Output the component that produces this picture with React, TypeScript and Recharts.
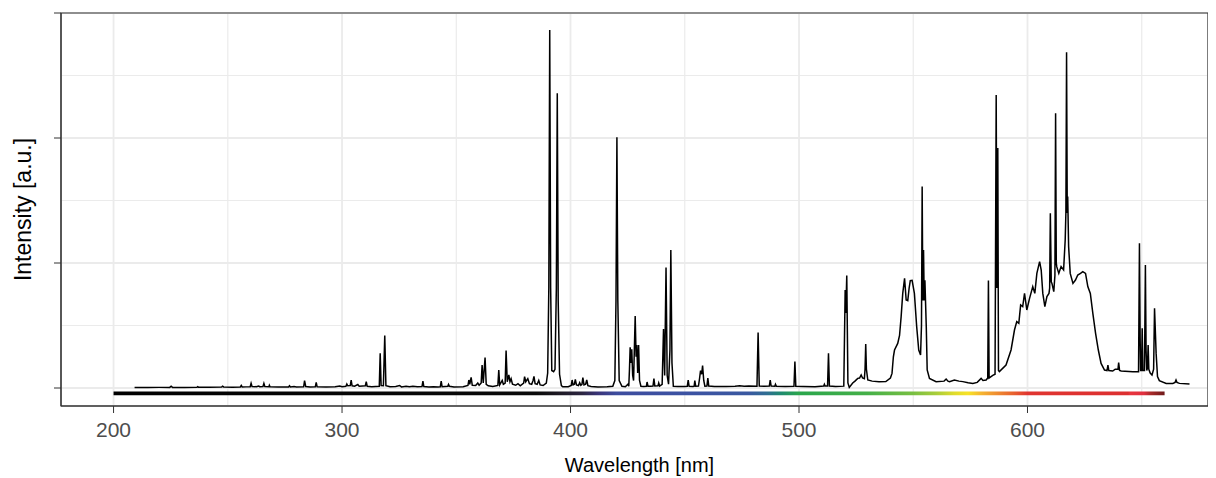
import { LineChart, Line, XAxis, YAxis, CartesianGrid, ReferenceArea } from 'recharts';

// wavelength [nm], intensity [counts]
const uvSpectrum: [number, number][] = [
  [209.2, 4], [215, 4], [220, 5], [224.6, 5], [225.2, 14], [225.8, 5], [231, 5], [236.5, 6], [236.8, 10], [237.2, 6],
  [242, 6], [247.3, 8], [247.7, 14], [248.2, 8], [252, 7], [255.5, 8], [255.9, 20], [256.3, 8], [258, 9], [259.8, 10],
  [260.2, 37], [260.6, 12], [262.5, 10], [263.5, 16], [264, 10], [265.4, 12], [265.8, 37], [266.2, 12], [268, 10],
  [268.2, 22], [268.5, 10], [272, 8], [276.6, 8], [277, 18], [277.4, 8], [279, 12], [280, 9], [283.2, 10], [283.6, 59],
  [284.1, 12], [286, 8], [288.3, 9], [288.7, 45], [289.1, 9], [293, 8], [297, 10], [299, 16], [300, 10], [301.7, 14],
  [302.1, 32], [302.5, 18], [303.6, 20], [304, 64], [304.4, 18], [305.5, 15], [306.9, 28], [307.5, 14], [309, 16],
  [310.2, 18], [310.6, 50], [311, 14], [313, 10], [316.3, 14], [316.7, 277], [317.1, 20], [318.1, 18], [318.7, 419],
  [319.2, 18], [321, 10], [323.5, 12], [325.2, 20], [326, 9], [328, 14], [329.5, 10], [331, 13], [333, 10], [335, 12],
  [335.4, 56], [335.8, 12], [338, 8], [340, 10],
];

const violetSpectrum: [number, number][] = [
  [342, 8], [343, 10], [343.4, 56], [343.8, 10], [346.3, 14], [346.6, 29], [347, 14], [349, 8], [353, 10], [355.1, 20],
  [355.5, 64], [355.9, 30], [356.5, 85], [357, 22], [358.5, 20], [359.4, 40], [360, 22], [360.9, 40], [361.3, 184],
  [361.8, 40], [362.6, 243], [363.1, 30], [364, 18], [366, 12], [368.2, 20], [368.6, 144], [369, 24], [370.1, 60],
  [370.6, 30], [371.4, 40], [371.8, 299], [372.3, 50], [373, 104], [373.5, 50], [374, 74], [374.6, 30], [376, 22],
  [377, 35], [378, 18], [379.5, 40], [379.9, 91], [380.4, 50], [381.3, 75], [382, 35], [383, 30], [383.6, 60], [384, 93],
  [384.5, 35], [385.4, 30], [386.1, 60], [386.7, 25], [388, 20], [389.4, 40], [390, 120], [390.5, 800], [390.9, 2864],
  [391.3, 800], [391.8, 140], [392.6, 131], [393.2, 150], [393.8, 800], [394.2, 2357], [394.6, 700], [395.2, 110],
  [396, 20], [396.6, 10], [399, 10], [400.3, 20], [400.7, 64], [401.1, 25], [401.7, 30], [402.1, 69], [402.6, 25],
  [403.5, 20], [404, 42], [404.5, 22], [405, 30], [405.4, 83], [405.9, 25], [406.6, 30], [407.1, 64], [407.6, 18],
  [409, 12], [412, 8], [416, 10], [418.5, 14], [419.4, 60], [419.9, 700], [420.3, 2005], [420.7, 700], [421.3, 60],
  [422.5, 14],
];

const blueGreenSpectrum: [number, number][] = [
  [424, 10], [425.1, 30], [425.5, 15], [425.8, 150], [426.1, 325], [426.5, 200], [426.8, 309], [427.2, 100], [427.6, 60],
  [428.3, 576], [428.7, 250], [429, 344], [429.4, 120], [429.8, 344], [430.2, 60], [430.8, 14], [432, 12], [433.2, 14],
  [433.5, 48], [433.9, 14], [435, 14], [436.1, 16], [436.5, 75], [436.9, 16], [438.3, 18], [438.6, 40], [439, 16],
  [440.1, 30], [440.7, 472], [441.2, 100], [441.8, 963], [442.3, 100], [442.9, 30], [443.5, 300], [443.9, 1104],
  [444.4, 200], [445, 14], [447, 12], [450, 12], [451.1, 14], [451.5, 64], [451.9, 14], [453.5, 12], [454.1, 14],
  [454.4, 59], [454.8, 14], [456, 15], [456.5, 80], [456.9, 139], [457.4, 110], [457.8, 179], [458.3, 60], [458.8, 15],
  [459.7, 16], [460.1, 80], [460.5, 16], [463, 12], [468, 12], [472, 14], [474, 18], [476, 14], [478, 16], [481.6, 15],
  [482.1, 443], [482.6, 15], [485, 14], [487, 15], [487.4, 64], [487.8, 16], [489.4, 14], [489.7, 30], [490.1, 14],
  [494, 12], [497.8, 14], [498.2, 211], [498.6, 14], [502, 12], [507, 11], [510.8, 16], [511.1, 30], [511.4, 16],
  [512.5, 16], [512.9, 277], [513.3, 16], [516, 12], [519.6, 15], [520.2, 784], [520.5, 600], [520.9, 899], [521.4, 40],
  [522, 5],
];

const yellowSpectrum: [number, number][] = [
  [523.5, 40], [524.5, 55], [525.7, 77], [526.5, 80], [527.2, 104], [527.8, 80], [528.6, 75], [528.9, 150], [529.2, 352],
  [529.5, 150], [530.1, 64], [532, 55], [535, 51], [538, 52], [540, 80], [540.7, 117], [541.3, 250], [541.8, 304],
  [543.2, 357], [544, 420], [544.7, 571], [545.4, 757], [546.2, 877], [546.9, 704], [547.6, 699], [548.2, 800],
  [548.7, 859], [549.5, 861], [550.5, 757], [551.5, 491], [552.4, 304], [553.2, 264], [553.6, 500], [553.9, 1611],
  [554.2, 700], [554.5, 1104], [554.8, 700], [555.1, 861], [555.7, 491], [556.1, 144], [557.1, 77], [560, 51],
  [563.5, 55], [564.4, 72], [565.2, 55], [565.9, 51], [568, 64], [570, 55], [571.7, 51], [574, 42], [576.1, 37], [578, 45],
  [579.7, 77], [580.5, 60], [581.9, 64], [582.6, 80], [582.9, 859], [583.2, 80], [583.6, 85], [584.8, 101], [585.8, 110],
  [586.3, 2344], [586.6, 800], [587, 1920], [587.3, 140], [587.7, 131], [590.6, 184], [592.8, 304], [594.3, 464],
  [595.3, 531], [596.2, 517], [597, 664], [597.9, 651], [598.7, 757], [599.7, 624], [600.9, 717], [602.3, 811],
  [603.2, 757], [604.1, 917], [605.3, 1011], [606, 944], [606.7, 757], [607.6, 651], [608.5, 731], [609.4, 757],
];

const redSpectrum: [number, number][] = [
  [609.7, 800], [610, 1397], [610.4, 850], [610.7, 837], [611.5, 771], [612, 900], [612.3, 2197], [612.6, 1000],
  [612.8, 971], [613.7, 917], [614.7, 971], [615.8, 944], [616.5, 1184], [616.8, 1400], [617.1, 2685], [617.4, 1400],
  [617.6, 1531], [618, 1131], [618.7, 917], [619.9, 837], [621, 864], [622, 904], [623.2, 917], [624.2, 931],
  [625.4, 917], [626.4, 811], [627.5, 757], [628.6, 597], [629.8, 437], [631, 304], [632.2, 197], [633.7, 144],
  [634.8, 140], [635.2, 184], [635.6, 140], [637.3, 136], [638.4, 150], [639.6, 150], [639.9, 203], [640.3, 140],
  [641, 136], [646.1, 131], [648.6, 131], [649, 1157], [649.3, 400], [649.5, 140], [649.9, 140], [650.2, 477],
  [650.5, 140], [651.2, 140], [651.6, 984], [651.9, 300], [652.2, 140], [652.5, 160], [652.8, 344], [653.1, 150],
  [653.7, 120], [654.5, 104], [655.2, 150], [655.6, 637], [656.3, 277], [656.9, 91], [657.7, 59], [660.7, 37],
  [663.6, 37], [664.6, 45], [665, 64], [665.4, 45], [666.5, 37], [670.9, 32],
];

const majorX = [200, 300, 400, 500, 600];
const minorX = [250, 350, 450, 550, 650];
const majorY = [0, 1000, 2000, 3000];
const minorY = [500, 1500, 2500];

// colour bar under the spectrum: [wavelength, colour]
const barColours: [number, string][] = [
  [200, '#000000'], [385, '#0a0a0a'], [395, '#1e1a24'], [405, '#2c2540'], [412, '#3a3478'], [420, '#3d4c9e'],
  [450, '#3c52a2'], [478, '#3a58a0'], [486, '#2f6e92'], [492, '#1f8a70'], [500, '#2aa64c'], [530, '#45b048'],
  [550, '#78bf42'], [560, '#a8cd3a'], [568, '#e0dc2c'], [574, '#f7e226'], [580, '#f5b330'], [587, '#ee8a30'],
  [594, '#e8602e'], [600, '#e03530'], [644, '#dc2f30'], [645, '#e8353e'], [651, '#e03040'], [654, '#a82a2a'],
  [660, '#6e1a1a'],
];
const barStart = 200;
const barEnd = 660;

const data = [...uvSpectrum, ...violetSpectrum, ...blueGreenSpectrum, ...yellowSpectrum, ...redSpectrum].map(
  ([wl, intensity]) => ({ wl, intensity })
);

const xDomain: [number, number] = [177, 679];
const yDomain: [number, number] = [-144, 3000];
const gridColour = '#ebebeb';
const font = '"Liberation Sans", Arial, Helvetica, sans-serif';

export default function App() {
  return (
    <LineChart
      width={1208}
      height={470}
      data={data}
      margin={{ top: 5, right: 8, bottom: 0, left: 0 }}
      style={{ fontFamily: font }}
    >
      <defs>
        <linearGradient id="spectrumBar" x1="0" y1="0" x2="1" y2="0">
          {barColours.map(([wl, c]) => (
            <stop key={wl} offset={(wl - barStart) / (barEnd - barStart)} stopColor={c} />
          ))}
        </linearGradient>
      </defs>
      {/* minor grid on hidden helper axes, major grid on the real ones */}
      <CartesianGrid xAxisId="minor" yAxisId="minor" stroke={gridColour} strokeWidth={1.2} />
      <CartesianGrid stroke={gridColour} strokeWidth={1.8} />
      <XAxis xAxisId="minor" dataKey="wl" type="number" domain={xDomain} ticks={minorX} allowDataOverflow hide />
      <YAxis yAxisId="minor" type="number" domain={yDomain} ticks={minorY} allowDataOverflow hide />
      <XAxis
        dataKey="wl"
        type="number"
        domain={xDomain}
        ticks={majorX}
        allowDataOverflow
        height={72}
        tickSize={7}
        tickMargin={9}
        axisLine={{ stroke: '#333333' }}
        tickLine={{ stroke: '#333333' }}
        tick={{ fill: '#4d4d4d', fontSize: 21 }}
        label={{ value: 'Wavelength [nm]', position: 'insideBottom', offset: 6, dx: 5, fill: '#000', fontSize: 20 }}
      />
      <YAxis
        type="number"
        domain={yDomain}
        ticks={majorY}
        allowDataOverflow
        width={53}
        tickSize={7}
        tickFormatter={() => ''}
        axisLine={{ stroke: '#333333' }}
        tickLine={{ stroke: '#333333' }}
        label={{
          value: 'Intensity [a.u.]',
          angle: -90,
          position: 'insideLeft',
          offset: 15,
          fill: '#000',
          fontSize: 23,
          style: { textAnchor: 'middle' },
        }}
      />
      <ReferenceArea x1={barStart} x2={barEnd} y1={-58} y2={-28} fill="url(#spectrumBar)" fillOpacity={1} stroke="none" />
      <ReferenceArea x1={xDomain[0]} x2={xDomain[1]} y1={yDomain[0]} y2={yDomain[1]} fill="none" stroke="#333333" strokeWidth={1.2} />
      <Line
        dataKey="intensity"
        type="linear"
        stroke="#000000"
        strokeWidth={1.5}
        dot={false}
        activeDot={false}
        isAnimationActive={false}
      />
    </LineChart>
  );
}
